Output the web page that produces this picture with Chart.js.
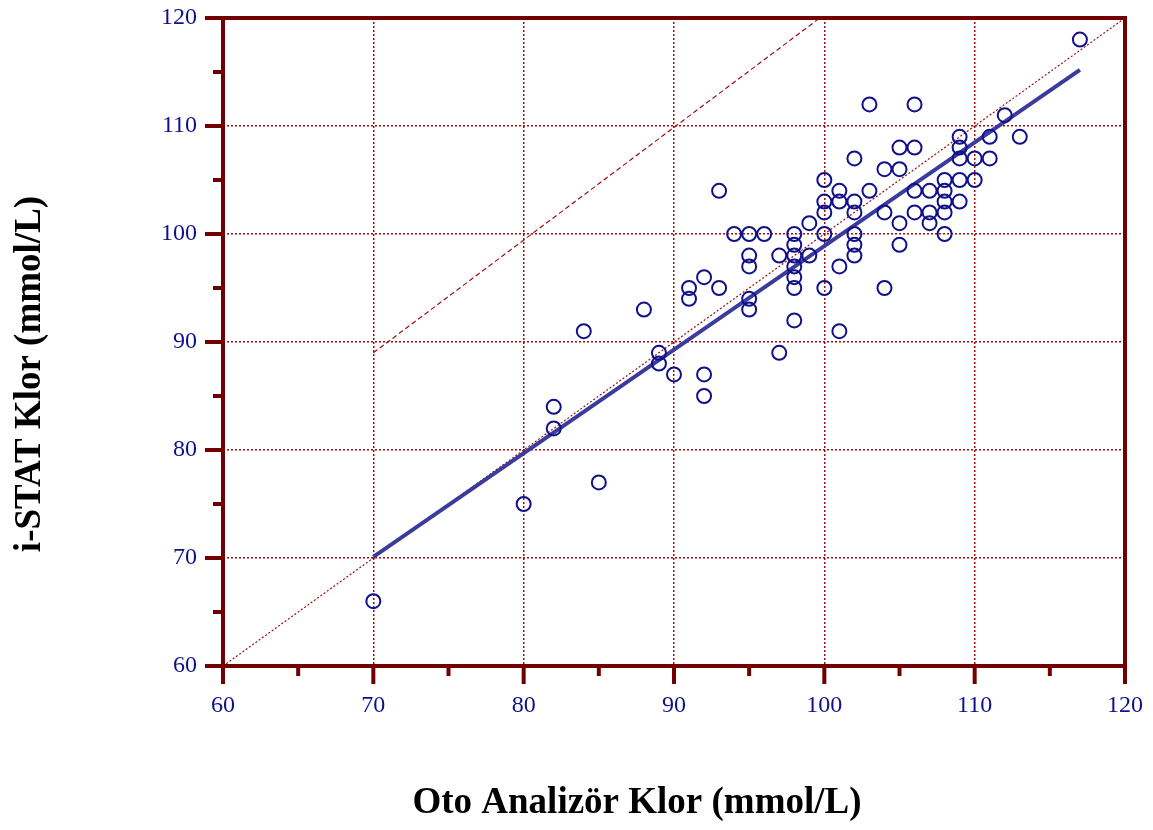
<!DOCTYPE html>
<html>
<head>
<meta charset="utf-8">
<script src="https://cdn.jsdelivr.net/npm/chart.js@4/dist/chart.umd.min.js"></script>
<style>
    html, body { margin: 0; padding: 0; background: #fff; }
    #wrap { width: 1153px; height: 830px; position: relative; }
</style>
</head>
<body>
<div id="wrap"><canvas id="klor-canvas" width="1153" height="830"></canvas></div>
<script>
// Oto analizör (x) vs i-STAT (y), mmol/L
const otoKlor = [
    70, 80, 82, 82, 84, 85, 88, 89, 89, 90,
    91, 91, 92, 92, 92, 93, 93, 94,
    95, 95, 95, 95, 95, 96, 97, 97,
    98, 98, 98, 98, 98, 98, 98, 99, 99,
    100, 100, 100, 100, 100, 101, 101, 101, 101,
    102, 102, 102, 102, 102, 102, 103, 103,
    104, 104, 104, 105, 105, 105, 105,
    106, 106, 106, 106, 107, 107, 107,
    108, 108, 108, 108, 108, 109, 109, 109, 109, 109,
    110, 110, 111, 111, 112, 113, 117,
];
const istatKlor = [
    66, 75, 84, 82, 91, 77, 93, 89, 88, 87,
    95, 94, 96, 87, 85, 104, 95, 100,
    100, 98, 97, 94, 93, 100, 98, 89,
    100, 99, 98, 97, 96, 95, 92, 101, 98,
    105, 103, 102, 100, 95, 104, 103, 97, 91,
    107, 103, 102, 100, 99, 98, 112, 104,
    106, 102, 95, 108, 106, 101, 99,
    112, 108, 104, 102, 104, 102, 101,
    105, 104, 103, 102, 100, 109, 108, 107, 105, 103,
    107, 105, 109, 107, 111, 109, 118,
];
// regression line ends
const fitX = [70, 117];
const fitY = [70.1, 115.2];
// line of identity and the upper dashed limit
const identX = [60, 120];
const identY = [60, 120];
const limitX = [70, 99.7];
const limitY = [89, 120];

const axisMin = 60;
const axisMax = 120;
const majorStep = 10;
const minorStep = 5;

const maroon = "#720000";
const gridRed = "#9b1010";
const navy = "#10108a";

function toPoints(xs, ys) {
    return xs.map((x, i) => ({ x: x, y: ys[i] }));
}

function noPad(scale) {
    scale.paddingTop = 0;
    scale.paddingBottom = 0;
    scale.paddingLeft = 0;
    scale.paddingRight = 0;
}

Chart.defaults.font.family = "'Liberation Serif', 'DejaVu Serif', serif";

// frame, tick marks and axis titles
const framePlugin = {
    id: "frame",
    afterDraw(chart) {
        const ctx = chart.ctx;
        const xs = chart.scales.x;
        const ys = chart.scales.y;
        const a = chart.chartArea;
        ctx.save();
        ctx.strokeStyle = maroon;
        ctx.lineWidth = 4;
        ctx.lineCap = "butt";
        ctx.strokeRect(a.left, a.top, a.right - a.left, a.bottom - a.top);
        ctx.beginPath();
        for (let v = axisMin; v <= axisMax; v += minorStep) {
            const len = v % majorStep === 0 ? 18 : 10;
            const px = xs.getPixelForValue(v);
            ctx.moveTo(px, a.bottom);
            ctx.lineTo(px, a.bottom + len);
            const py = ys.getPixelForValue(v);
            ctx.moveTo(a.left, py);
            ctx.lineTo(a.left - len, py);
        }
        ctx.stroke();

        ctx.fillStyle = "#000";
        ctx.font = "bold 37px 'Liberation Serif', serif";
        ctx.textAlign = "center";
        ctx.textBaseline = "middle";
        ctx.fillText("Oto Analizör Klor (mmol/L)", 637, 803);
        ctx.translate(30, 374);
        ctx.rotate(-Math.PI / 2);
        ctx.fillText("i-STAT Klor (mmol/L)", 0, 0);
        ctx.restore();
    },
};

const data = {
    datasets: [
        {
            label: "Hastalar",
            data: toPoints(otoKlor, istatKlor),
            pointStyle: "circle",
            pointRadius: 7,
            pointBorderWidth: 2,
            borderColor: navy,
            backgroundColor: "rgba(255,255,255,0)",
            order: 1,
        },
        {
            type: "line",
            label: "Regresyon",
            data: toPoints(fitX, fitY),
            borderColor: "#3b3b9e",
            borderWidth: 4,
            pointRadius: 0,
            fill: false,
            order: 2,
        },
        {
            type: "line",
            label: "x = y",
            data: toPoints(identX, identY),
            borderColor: gridRed,
            borderWidth: 1.2,
            borderDash: [2, 2],
            pointRadius: 0,
            fill: false,
            order: 3,
        },
        {
            type: "line",
            label: "Limit",
            data: toPoints(limitX, limitY),
            borderColor: gridRed,
            borderWidth: 1.2,
            borderDash: [5, 3],
            pointRadius: 0,
            fill: false,
            order: 3,
        },
    ],
};

const tickFont = { size: 24 };

const config = {
    type: "scatter",
    data: data,
    plugins: [framePlugin],
    options: {
        responsive: false,
        animation: false,
        layout: { padding: { top: 18, right: 28, left: 0, bottom: 0 } },
        plugins: {
            legend: { display: false },
            tooltip: { enabled: false },
        },
        scales: {
            x: {
                type: "linear",
                min: axisMin,
                max: axisMax,
                afterFit: (scale) => { scale.height = 164; noPad(scale); },
                ticks: { stepSize: majorStep, color: navy, font: tickFont, padding: 25 },
                grid: { color: gridRed, lineWidth: 1.5, drawTicks: false },
                border: { display: false, dash: [2, 2] },
            },
            y: {
                type: "linear",
                min: axisMin,
                max: axisMax,
                afterFit: (scale) => { scale.width = 223; noPad(scale); },
                ticks: { stepSize: majorStep, color: navy, font: tickFont, padding: 26 },
                grid: { color: gridRed, lineWidth: 1.5, drawTicks: false },
                border: { display: false, dash: [2, 2] },
            },
        },
    },
};

new Chart(document.querySelector("#klor-canvas"), config);
</script>
</body>
</html>
